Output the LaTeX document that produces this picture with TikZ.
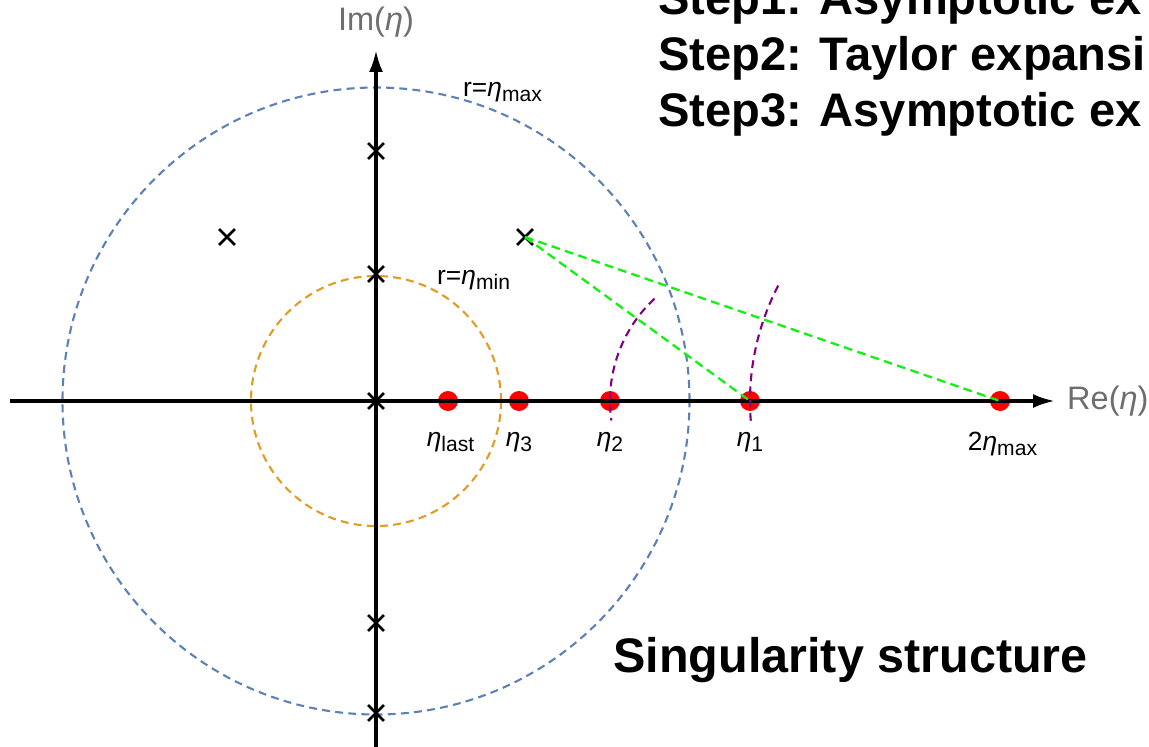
\documentclass[tikz,border=0pt]{standalone}
\usepackage{fontspec}
\setmainfont{Liberation Sans}
\usetikzlibrary{arrows.meta,positioning,shapes.misc}
\definecolor{singBlue}{RGB}{94,129,181}
\definecolor{singOrange}{RGB}{225,156,36}
\definecolor{singGreen}{RGB}{20,240,20}
\definecolor{singPurple}{RGB}{128,0,128}
\definecolor{singRed}{RGB}{255,0,0}
\definecolor{singGray}{RGB}{110,110,110}
\newcommand{\etasub}[1]{\textit{η}\raisebox{-0.35ex}{\fontsize{12}{12}\selectfont #1}}

\begin{document}
\begin{tikzpicture}[
  axis/.style={-{Latex[length=4.4mm,width=2.8mm]},line width=2pt},
  axislabel/.style={text=singGray,font=\fontsize{18.5}{19}\selectfont},
  ring/.style={dashed,dash pattern=on 4.5pt off 3pt,line width=1.2pt},
  sing/.style={cross out,draw,line width=1.6pt,minimum size=0.26cm,inner sep=0pt},
  dot/.style={circle,fill=singRed,minimum size=0.4cm,inner sep=0pt},
  ptlabel/.style={font=\fontsize{15}{15}\selectfont},
  conv/.style={singPurple,dashed,dash pattern=on 4.5pt off 3pt,line width=1.2pt},
  pathline/.style={singGreen,dashed,dash pattern=on 5pt off 3pt,line width=1.3pt},
  steptext/.style={font=\fontsize{26.8}{32}\selectfont\bfseries,inner sep=0pt}
]
  \useasboundingbox (-7.52,-6.9) rectangle (15.46,8.02);
  \clip (-7.52,-6.9) rectangle (15.46,8.02);

  % circles of radius eta_max and eta_min
  \draw[ring,singBlue] (0,0) circle[radius=6.27];
  \draw[ring,singOrange] (0,0) circle[radius=2.5];

  % points on the real axis
  \node[dot] (elast) at (1.44,0) {};
  \node[dot] (e3) at (2.86,0) {};
  \node[dot] (e2) at (4.68,0) {};
  \node[dot] (e1) at (7.48,0) {};
  \node[dot] (emax) at (12.48,0) {};

  % axes
  \coordinate (xl) at (-7.32,0);
  \coordinate (xr) at (13.58,0);
  \coordinate (yb) at (0,-6.95);
  \coordinate (yt) at (0,7.02);
  \draw[axis] (xl) -- (xr);
  \draw[axis] (yb) -- (yt);
  \node[axislabel] (imlabel) at (0,7.58) {Im(\textit{η})};
  \node[axislabel,anchor=west] (relabel) at (13.7,0) {Re(\textit{η})};

  \node[ptlabel,below=0.3cm of elast,xshift=0.05cm] (lblast) {\etasub{last}};
  \node[ptlabel,below=0.3cm of e3] (lb3) {\etasub{3}};
  \node[ptlabel,below=0.3cm of e2] (lb2) {\etasub{2}};
  \node[ptlabel,below=0.3cm of e1] (lb1) {\etasub{1}};
  \node[ptlabel,below=0.3cm of emax,xshift=0.05cm] (lbmax) {2\etasub{max}};

  \node[ptlabel,anchor=west] (rmax) at (1.62,6.18) {r=\etasub{max}};
  \node[ptlabel,anchor=west] (rmin) at (1.1,2.42) {r=\etasub{min}};

  % radii of convergence
  \draw[conv] (e1.center) ++(133:2.8) arc[start angle=133,end angle=188,radius=2.8];
  \draw[conv] (emax.center) ++(152.5:5) arc[start angle=152.5,end angle=185.5,radius=5];

  % singularities
  \node[sing] (s1) at (2.98,3.28) {};
  \node[sing] (s2) at (-2.98,3.28) {};
  \node[sing] (s3) at (0,5.0) {};
  \node[sing] (s4) at (0,2.54) {};
  \node[sing] (s5) at (0,0) {};
  \node[sing] (s6) at (0,-4.44) {};
  \node[sing] (s7) at (0,-6.24) {};

  \draw[pathline] (s1.center) -- (e1.center);
  \draw[pathline] (s1.center) -- (emax.center);

  % steps
  \node[steptext,anchor=base west] (step1) at (5.64,7.72) {Step1: Asymptotic ex};
  \node[steptext,anchor=base west] (step2) at (5.64,6.6) {Step2: Taylor expansi};
  \node[steptext,anchor=base west] (step3) at (5.64,5.5) {Step3: Asymptotic ex};

  \node[steptext,anchor=base west,font=\fontsize{27.6}{33}\selectfont\bfseries] (title) at (4.74,-5.42) {Singularity structure};
\end{tikzpicture}
\end{document}
